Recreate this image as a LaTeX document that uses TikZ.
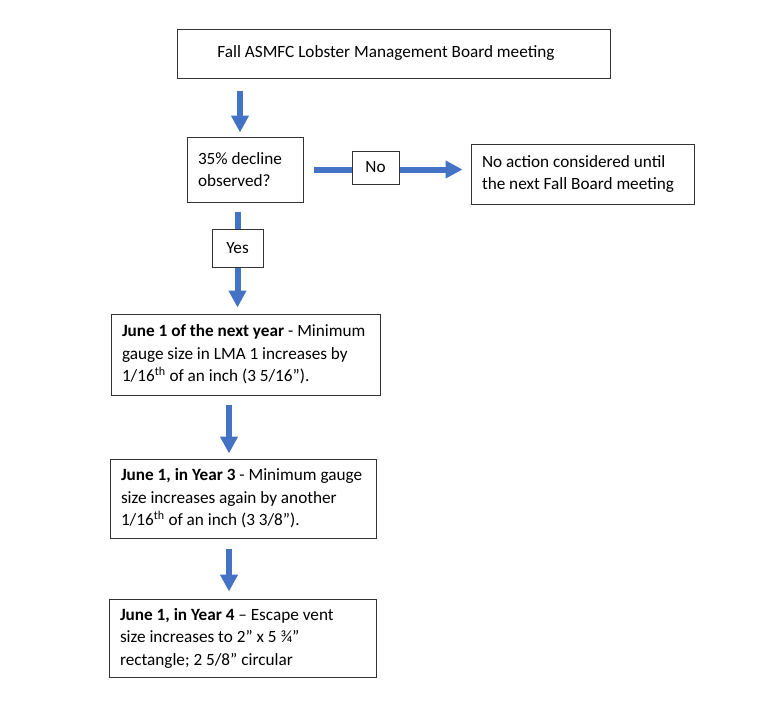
\documentclass[tikz,border=0pt]{standalone}
\usepackage{fontspec}
\setmainfont{Carlito}
\usepackage{tikz}
\usetikzlibrary{arrows.meta, calc}
\definecolor{flowblue}{HTML}{4472C4}
\tikzset{
  step box/.style={
    draw=black!80,
    line width=1pt,
    rectangle,
    align=flush left,
    inner xsep=11pt,
    inner ysep=0pt,
    font=\fontsize{17.2}{22.5}\selectfont
  },
  answer box/.style={
    draw=black!80,
    line width=1pt,
    rectangle,
    align=center,
    inner sep=0pt,
    font=\fontsize{17.2}{22.5}\selectfont
  },
  flow arrow/.style={
    -{Triangle[length=17pt, width=17pt]},
    line width=6pt,
    color=flowblue
  },
  flow line/.style={
    -,
    line width=6pt,
    color=flowblue
  }
}

\begin{document}
\begin{tikzpicture}[x=1pt, y=-1pt]
    % bounding box = reference size
    \useasboundingbox (0,0) rectangle (780,702);

    % boxes
    \node[step box, align=center, minimum width=433pt, minimum height=49pt] (top) at (393.5,53.5)
      {\hspace*{-15pt}Fall ASMFC Lobster Management Board meeting};
    \node[step box, text width=94pt, minimum height=65pt] (decision) at (245,169.5)
      {35\% decline\\observed?};
    \node[answer box, minimum width=47pt, minimum height=33pt] (no) at (375.5,167.5) {No};
    \node[step box, text width=201pt, minimum height=60pt] (noaction) at (582.5,174)
      {No action considered until\\the next Fall Board meeting};
    \node[answer box, minimum width=51pt, minimum height=38pt] (yes) at (237.5,248) {Yes};
    \node[step box, text width=247pt, minimum height=81pt] (yearone) at (245.5,354.5)
      {\textbf{June 1 of the next year} - Minimum\\gauge size in LMA 1 increases by\\1/16\textsuperscript{th} of an inch (3 5/16”).};
    \node[step box, text width=244pt, minimum height=79pt] (yearthree) at (243,498.5)
      {\textbf{June 1, in Year 3} - Minimum gauge\\size increases again by another\\1/16\textsuperscript{th} of an inch (3 3/8”).};
    \node[step box, text width=245pt, minimum height=78pt] (yearfour) at (242.5,638)
      {\textbf{June 1, in Year 4} – Escape vent\\size increases to 2” x 5 ¾”\\rectangle; 2 5/8” circular};

    % connectors
    \draw[flow arrow, shorten <=12pt, shorten >=4pt]
      ([xshift=-5pt]decision.north |- top.south) -- ([xshift=-5pt]decision.north);
    \draw[flow line, shorten <=10pt] (decision.east) -- (no.west |- decision.east);
    \draw[flow arrow, shorten >=8pt] (no.east |- decision.east) -- (noaction.west |- decision.east);
    \draw[flow line, shorten <=9pt] (yes.north |- decision.south) -- (yes.north);
    \draw[flow arrow, shorten >=6pt] (yes.south) -- (yes.south |- yearone.north);
    \draw[flow arrow, shorten <=9pt, shorten >=5pt]
      ([xshift=-14pt]yearthree.north |- yearone.south) -- ([xshift=-14pt]yearthree.north);
    \draw[flow arrow, shorten <=10pt, shorten >=7pt]
      ([xshift=-13.5pt]yearfour.north |- yearthree.south) -- ([xshift=-13.5pt]yearfour.north);
\end{tikzpicture}
\end{document}
